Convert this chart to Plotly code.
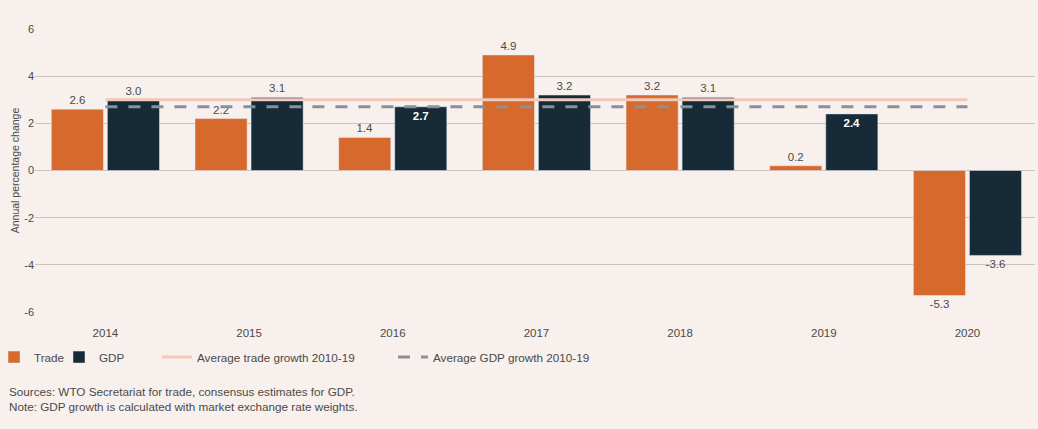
import plotly.graph_objects as go

# data
years = ["2014", "2015", "2016", "2017", "2018", "2019", "2020"]
trade = [2.6, 2.2, 1.4, 4.9, 3.2, 0.2, -5.3]
gdp = [3.0, 3.1, 2.7, 3.2, 3.1, 2.4, -3.6]
avg_trade = 3.0
avg_gdp = 2.7
avg_span = ["2014", "2020"]

ytick_vals = [-6, -4, -2, 0, 2, 4, 6]
ytick_text = ["-6", "-4", "-2", "0", "2", "4", "6"]

# GDP labels sitting inside the bar (white, bold) for these years
gdp_inside = ["2016", "2019"]

colors = {
    'bg': '#f8f0ec',
    'trade': '#d8692c',
    'gdp': '#172a38',
    'avg_trade': '#f0c9bb',
    'avg_gdp': '#86919a',
    'grid': '#cbc3bf',
    'text': '#4a4a4a',
}
FONT = "Liberation Sans, Arial, sans-serif"

fig = go.Figure()

fig.add_trace(
    go.Bar(
        x=years,
        y=trade,
        name='Trade',
        legend='legend',
        marker_color=colors['trade'],
        text=[f"{v:.1f}" for v in trade],
        textposition='outside',
        textfont=dict(size=11.5, color=colors['text']),
        cliponaxis=False,
    )
)

gdp_pos = ['inside' if y in gdp_inside else 'outside' for y in years]
gdp_text = [f"<b>{v:.1f}</b>" if y in gdp_inside else f"{v:.1f}" for y, v in zip(years, gdp)]
gdp_col = ['white' if y in gdp_inside else colors['text'] for y in years]

fig.add_trace(
    go.Bar(
        x=years,
        y=gdp,
        name='GDP',
        legend='legend2',
        marker_color=colors['gdp'],
        text=gdp_text,
        textposition=gdp_pos,
        insidetextanchor='end',
        textfont=dict(size=11.5, color=gdp_col),
        cliponaxis=False,
    )
)

fig.add_trace(
    go.Scatter(
        x=avg_span,
        y=[avg_trade, avg_trade],
        mode='lines',
        name='Average trade growth 2010-19',
        legend='legend3',
        line=dict(color=colors['avg_trade'], width=3),
    )
)

fig.add_trace(
    go.Scatter(
        x=avg_span,
        y=[avg_gdp, avg_gdp],
        mode='lines',
        name='Average GDP growth 2010-19',
        legend='legend4',
        line=dict(color=colors['avg_gdp'], width=3, dash='12px,11px'),
    )
)

fig.add_annotation(
    text="Sources: WTO Secretariat for trade, consensus estimates for GDP.<br>"
         "Note: GDP growth is calculated with market exchange rate weights.",
    xref='paper', yref='paper',
    x=-0.028, y=-0.252,
    xanchor='left', yanchor='top',
    align='left',
    showarrow=False,
    font=dict(size=11.7, color=colors['text']),
)

# one legend per item so each entry can sit where it does in the original
def leg(x):
    return dict(
        orientation='h',
        x=x, y=-0.108,
        xanchor='left', yanchor='top',
        font=dict(size=11.7, color=colors['text']),
        bgcolor='rgba(0,0,0,0)',
    )

fig.update_layout(
    width=1038,
    height=429,
    margin=dict(l=35, r=3, t=29, b=117, autoexpand=False),
    barmode='group',
    bargap=0.22,
    bargroupgap=0.07,
    font=dict(family=FONT, color=colors['text'], size=11),
    plot_bgcolor=colors['bg'],
    paper_bgcolor=colors['bg'],
    showlegend=True,
    legend=leg(-0.041),
    legend2=leg(0.024),
    legend3=leg(0.122),
    legend4=leg(0.358),
    xaxis=dict(
        type='category',
        range=[-0.49, 6.47],
        automargin=False,
        showgrid=False,
        zeroline=False,
        showline=False,
        ticks='outside',
        ticklen=10,
        tickcolor='rgba(0,0,0,0)',
        tickfont=dict(size=11.5, color=colors['text']),
    ),
    yaxis=dict(
        range=[-6, 6],
        automargin=False,
        tickvals=ytick_vals,
        ticktext=ytick_text,
        showgrid=True,
        gridcolor=colors['grid'],
        gridwidth=1,
        zeroline=True,
        zerolinecolor=colors['grid'],
        zerolinewidth=1,
        tickfont=dict(size=11, color=colors['text']),
        title=dict(text='Annual percentage change', font=dict(size=10.5, color=colors['text']), standoff=2),
    ),
)

# drop the page's default body margin so the figure fills the window
fig.write_html(
    "out.html",
    config={'displayModeBar': False},
    post_script="document.body.style.margin='0';document.body.style.overflow='hidden';"
                "document.body.style.background='" + colors['bg'] + "';",
)
